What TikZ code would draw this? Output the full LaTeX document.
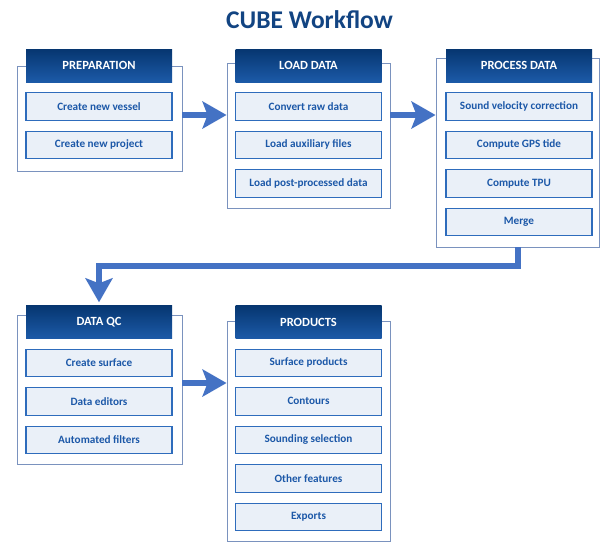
\documentclass[tikz,border=0pt]{standalone}
\usepackage{fontspec}
\setmainfont{Carlito}
\usetikzlibrary{positioning,arrows.meta}
\definecolor{titleblue}{RGB}{18,68,130}
\definecolor{headtop}{RGB}{6,54,112}
\definecolor{headbot}{RGB}{28,90,168}
\definecolor{taskline}{RGB}{46,108,188}
\definecolor{taskfill}{RGB}{234,240,248}
\definecolor{tasktext}{RGB}{28,88,168}
\definecolor{framegray}{RGB}{122,146,190}
\definecolor{flowblue}{RGB}{68,114,196}
\begin{document}
\begin{tikzpicture}[x=1pt,y=-1pt,
  frame/.style={draw=framegray, line width=0.9pt, fill=white, inner sep=0pt},
  head/.style={top color=headtop, bottom color=headbot, minimum width=146pt, minimum height=33pt,
    inner sep=0pt, text=white, font=\fontsize{12.5}{14}\selectfont\bfseries},
  task/.style={draw=taskline, line width=1.2pt, fill=taskfill, text=tasktext, minimum width=146pt,
    minimum height=27.5pt, inner sep=0pt, font=\fontsize{11.2}{13}\selectfont\bfseries},
  flow/.style={draw=flowblue, line width=5.5pt, -{Stealth[length=24pt,width=27pt,inset=5pt]}},
  node distance=9.8pt]
\useasboundingbox (0,0) rectangle (600,542);
% Title
\node[anchor=base, text=titleblue, font=\fontsize{25.5}{30}\selectfont\bfseries] (title) at (309.5,28) {CUBE Workflow};
% Outer frames
\node[frame, minimum width=165pt, minimum height=105pt] (prepbox) at (99.5,118.5) {};
\node[frame, minimum width=163pt, minimum height=145pt] (loadbox) at (308.5,135.5) {};
\node[frame, minimum width=163.5pt, minimum height=189pt] (procbox) at (517.75,152.5) {};
\node[frame, minimum width=165pt, minimum height=149pt] (qcbox) at (99.5,389.5) {};
\node[frame, minimum width=163pt, minimum height=220pt] (prodbox) at (308.5,431) {};
% Preparation
\node[head] (prephead) at (99,65.5) {PREPARATION};
\node[task, below=of prephead] (vessel) {Create new vessel};
\node[task, below=of vessel] (project) {Create new project};
% Load data
\node[head] (loadhead) at (308.5,65.5) {LOAD DATA};
\node[task, below=of loadhead] (convert) {Convert raw data};
\node[task, below=of convert] (auxfiles) {Load auxiliary files};
\node[task, below=of auxfiles] (postproc) {Load post-processed data};
% Process data
\node[head] (prochead) at (519,65.5) {PROCESS DATA};
\node[task, below=of prochead] (svc) {Sound velocity correction};
\node[task, below=of svc] (gpstide) {Compute GPS tide};
\node[task, below=of gpstide] (tpu) {Compute TPU};
\node[task, below=of tpu] (merge) {Merge};
% Data QC
\node[head] (qchead) at (99,322) {DATA QC};
\node[task, below=of qchead] (surface) {Create surface};
\node[task, below=of surface] (editors) {Data editors};
\node[task, below=of editors] (filters) {Automated filters};
% Products
\node[head] (prodhead) at (308.5,322) {PRODUCTS};
\node[task, below=of prodhead] (surfprod) {Surface products};
\node[task, below=of surfprod] (contours) {Contours};
\node[task, below=of contours] (soundsel) {Sounding selection};
\node[task, below=of soundsel] (features) {Other features};
\node[task, below=of features] (exports) {Exports};
% Flow arrows
\coordinate (rowA) at (0,115);
\coordinate (rowB) at (0,383);
\coordinate (turn) at (300,266);
\draw[flow] (prepbox.east |- rowA) -- (loadbox.west |- rowA);
\draw[flow] (loadbox.east |- rowA) -- (procbox.west |- rowA);
\draw[flow] (procbox.south) |- (turn) -| ([yshift=3pt]qchead.north);
\draw[flow] (qcbox.east |- rowB) -- (prodbox.west |- rowB);
\end{tikzpicture}
\end{document}
